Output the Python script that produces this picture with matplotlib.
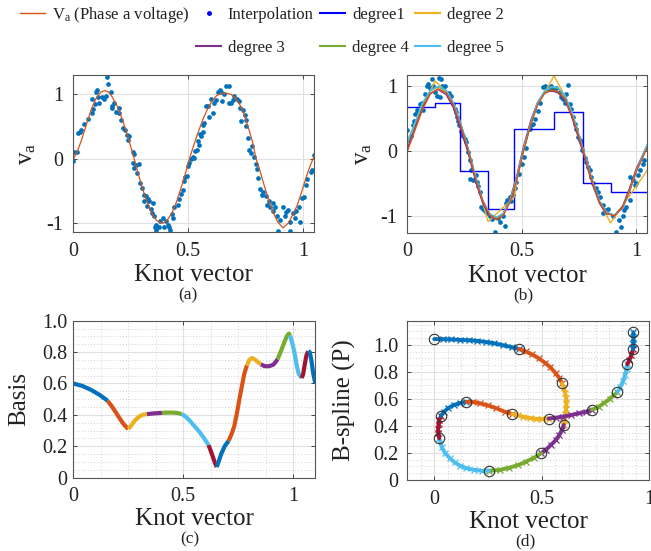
import matplotlib
matplotlib.use('Agg')
import matplotlib.pyplot as plt
from matplotlib.lines import Line2D
from matplotlib.ticker import MultipleLocator

plt.rcParams['font.family'] = ['Liberation Serif', 'DejaVu Serif']
plt.rcParams['mathtext.fontset'] = 'custom'
plt.rcParams['mathtext.rm'] = 'Liberation Serif'
plt.rcParams['mathtext.it'] = 'Liberation Serif:italic'

BLUE = '#0072BD'
ORANGE = '#D95319'
YELLOW = '#EDB120'
PURPLE = '#7E2F8E'
GREEN = '#77AC30'
LBLUE = '#4DBEEE'
DRED = '#A2142F'
seg_colors = [BLUE, ORANGE, YELLOW, PURPLE, GREEN, LBLUE, DRED]
TXT = '#222222'

# ---------------- (a) phase voltage + noisy samples ----------------
va_x = [0, .02, .04, .06, .08, .10, .12, .138, .155, .17, .19, .21, .23, .25, .266,
        .285, .305, .325, .345, .365, .39, .41, .43, .45, .47, .49, .506,
        .525, .545, .565, .585, .605, .625, .645, .666, .685, .705, .725, .745, .765, .78, .796,
        .81, .83, .85, .87, .89, .913, .935, .955, .975, .995, 1.015, 1.03, 1.047]
va_y = [-.02, .12, .32, .55, .77, .93, 1.03, 1.057, 1.03, .96, .83, .65, .44, .20, 0.0,
        -.25, -.49, -.70, -.86, -.96, -1.0, -.95, -.84, -.67, -.45, -.21, 0.0,
        .21, .42, .61, .77, .90, .98, 1.01, 1.015, 1.0, .95, .84, .68, .45, .27, 0.0,
        -.15, -.40, -.63, -.83, -.98, -1.07, -1.0, -.87, -.72, -.50, -.27, -.12, .03]

pts_a_x = [0, .004, .019, .023, .029, .033, .048, .081, .087, .084, .099, .106, .096, .113, .128,
           .135, .142, .15, .153, .167, .169, .171, .189, .198, .208, .218, .227, .233, .237, .244,
           .259, .266, .259, .273, .285, .266, .291, .31, .317, .31, .324, .331, .349, .321, .343,
           .353, .36, .358, .363, .375, .39, .397, .404, .411, .419, .422, .43, .433, .44, .455,
           .477, .484, .488, .494, .499, .503, .513, .52, .528, .539, .542, .549, .557, .564, .564,
           .571, .578, .586, .593, .608, .615, .622, .629, .64, .644, .648, .663, .677, .68, .688,
           .695, .712, .721, .731, .738, .746, .753, .753, .76, .765, .772, .789, .794, .8, .814,
           .823, .828, .84, .843, .855, .869, .869, .876, .887, .891, .913, .92, .927, .935, .942,
           .945, .956, .964, .971, .983, .988, .997, 1.003, 1.015, 1.017, 1.036, 1.041, 1.047,
           .065, .11, .18, .2, .28, .3, .337, .38, .46, .47, .53, .55, .6, .655, .7, .727, .78, .805, .85, .9]
pts_a_y = [-.04, .10, .11, .40, .42, .45, .54, .71, .77, .92, 1.04, 1.06, .85, .86, .96,
           .92, .97, 1.27, 1.16, 1.04, .82, .78, .73, .71, .60, .47, .45, .37, .29, .35,
           .11, .08, -.07, -.09, -.08, -.14, -.37, -.56, -.58, -.65, -.63, -.66, -.68, -.73, -.84,
           -.89, -1.02, -1.06, -1.10, -1.05, -.92, -1.05, -.97, -1.02, -1.05, -1.10, -.85, -.92, -.74, -.71,
           -.48, -.35, -.28, -.27, -.12, -.07, 0.0, .02, .01, .14, .27, .22, .35, .42, .53,
           .55, .82, .81, .65, .71, .86, .91, 1.03, 1.06, 1.04, .90, 1.13, 1.13, .86, .87,
           .91, .92, .89, .58, .75, .68, .60, .51, .32, .14, .09, .03, -.08, -.16, -.47,
           -.56, -.52, -.58, -.71, -.74, -.69, -.81, -.75, -.89, -1.12, -.74, -.89, -.83, -.80, -.98,
           -1.12, -.84, -.92, -.81, -.74, -.98, -.61, -.59, -.40, -.31, -.20, -.17, .06,
           .62, .95, .86, .78, -.22, -.45, -.78, -.96, -.62, -.55, .12, .38, .92, 1.0, .97, .78, .2, -.3, -.66, -.95]

# ---------------- (b) B-spline fits of several degrees ----------------
pts_b_x = [0, .004, .015, .023, .029, .033, .041, .048, .055, .062, .067, .077, .084, .090, .099,
           .106, .113, .121, .128, .14, .145, .150, .157, .164, .142, .18, .19, .2, .208, .212,
           .215, .222, .227, .233, .237, .244, .251, .256, .266, .273, .28, .276, .288, .302, .305,
           .31, .317, .324, .331, .339, .349, .36, .368, .382, .397, .404, .426, .419, .43, .436,
           .44, .448, .455, .462, .47, .477, .49, .5, .51, .52, .535, .542, .549, .56, .57,
           .58, .593, .6, .608, .615, .622, .629, .637, .651, .666, .673, .68, .688, .695, .702,
           .709, .717, .724, .731, .738, .746, .753, .76, .765, .775, .782, .789, .797, .804, .811,
           .826, .833, .84, .855, .862, .855, .876, .898, .91, .927, .935, .942, .949, .956, .971,
           .974, .985, .993, 1.0, 1.007, 1.015, 1.029, 1.036]
pts_b_y = [.33, .17, .24, .40, .47, .58, .64, .59, .73, .75, .64, .88, 1.01, 1.03, .98,
           1.11, 1.01, .91, .85, 1.12, 1.11, 1.01, .99, 1.01, .83, .90, .85, .72, .65, .60,
           .52, .47, .40, .32, .27, .24, .19, .14, -.01, -.14, -.29, -.42, -.44, -.37, -.47,
           -.54, -.62, -.85, -.88, -.91, -.95, -1.00, -1.04, -1.24, -1.03, -1.09, -1.15, -1.00, -.80, -.74,
           -.77, -.70, -.77, -.67, -.57, -.47, -.35, -.20, -.08, .05, .35, .40, .42, .50, .62,
           .75, .99, 1.01, .99, .97, .96, 1.01, .96, .98, .91, .84, .80, .75, .88, 1.02,
           .73, .65, .52, .42, .35, .22, .17, .14, .02, -.11, -.16, -.24, -.29, -.39, -.49,
           -.57, -.62, -.70, -.82, -.90, -.95, -.89, -1.00, -1.24, -1.05, -1.16, -1.00, -.90, -.85, -.75,
           -.39, -.44, -.52, -.49, -.37, -.29, -.19, -.14]

deg1_knots = [0, .121, .23, .353, .467, .641, .767, .888, 1.047]
deg1_vals = [.687, .743, -.30, -.89, .336, .611, -.483, -.631, -.631]

deg2_x = [0, .121, .17, .2, .233, .266, .3, .353, .467, .48, .506, .54, .57, .6, .641, .675,
          .69, .72, .75, .78, .81, .84, .888, 1.047]
deg2_y = [.17, 1.08, .92, .74, .42, .03, -.44, -1.08, -.70, -.42, -.02, .42, .73, .90, 1.16, .94,
          .82, .57, .24, -.12, -.48, -.78, -1.10, -.30]

xb = [0, .033, .066, .1, .135, .17, .2, .233, .266, .3, .33, .36, .39, .42, .45, .48, .506,
      .54, .57, .6, .63, .658, .69, .72, .75, .78, .81, .84, .87, .905, .94, .97, 1.0, 1.047]
deg3_y = [.04, .36, .67, .89, .95, .87, .68, .35, -.03, -.48, -.80, -.99, -1.04, -.95, -.72, -.35, .05,
          .48, .76, .90, .93, .90, .78, .52, .18, -.16, -.52, -.80, -.96, -.98, -.85, -.58, -.27, .08]
deg4_y = [.12, .42, .72, .93, .99, .93, .74, .42, .03, -.42, -.76, -.96, -1.02, -.96, -.75, -.40, 0.0,
          .43, .74, .92, .98, .97, .84, .58, .24, -.12, -.48, -.77, -.94, -.98, -.87, -.62, -.30, .06]
deg5_y = [.14, .44, .74, .94, 1.0, .94, .76, .44, .05, -.40, -.75, -.96, -1.01, -.95, -.74, -.38, .02,
          .45, .76, .93, .99, .98, .86, .60, .26, -.10, -.46, -.76, -.93, -.98, -.88, -.63, -.31, .10]
ref_b_y = [0.0, .32, .64, .88, .96, .90, .72, .40, .02, -.44, -.77, -.98, -1.05, -.98, -.77, -.42, -.02,
           .42, .72, .89, .94, .92, .80, .55, .22, -.12, -.48, -.78, -.95, -.99, -.87, -.62, -.32, .05]

# ---------------- (c) basis curve, one colour per knot span ----------------
c_x = [0, .04, .08, .12, .156, .175, .194, .212, .232, .25, .265, .28, .30, .318, .335, .37, .403,
       .44, .47, .494, .51, .527, .55, .573, .595, .615, .625, .635, .645, .652, .66, .672, .688, .706,
       .72, .732, .745, .755, .766, .777, .789, .80, .812, .826, .84, .853, .87, .89, .91, .929,
       .945, .96, .972, .98, .985, .995, 1.005, 1.015, 1.025, 1.038, 1.045, 1.052, 1.06, 1.068,
       1.075, 1.082, 1.09, 1.10]
c_y = [.600, .585, .56, .527, .49, .455, .415, .375, .335, .31, .335, .365, .39, .402, .405, .41, .413,
       .415, .413, .405, .39, .367, .33, .293, .25, .208, .17, .13, .09, .068, .10, .15, .20, .235,
       .28, .33, .42, .50, .58, .66, .715, .75, .762, .752, .735, .722, .71, .71, .72, .755,
       .81, .865, .905, .918, .905, .86, .80, .72, .66, .635, .66, .72, .78, .805,
       .80, .75, .67, .60]
c_breaks = [0, 4, 9, 14, 16, 19, 25, 29, 33, 40, 45, 49, 54, 59, 63, 67]

# ---------------- (d) 2-D B-spline with knot circles ----------------
d_x = [0, .04, .08, .12, .16, .2, .24, .28, .32, .36, .394,
       .425, .455, .485, .515, .54, .565, .582, .594,
       .603, .609, .613, .614, .613, .609, .605, .602,
       .593, .582, .565, .543, .52, .497,
       .465, .427, .39, .35, .304, .255,
       .22, .185, .15, .12, .095, .073, .05, .034, .023,
       .019, .018, .02, .024, .031,
       .045, .065, .09, .12, .15,
       .18, .211, .25, .289, .327, .363,
       .39, .412, .445, .474, .503, .532,
       .565, .597, .635, .674, .705, .733,
       .765, .79, .815, .835, .852,
       .866, .878, .888, .894, .898,
       .907, .916, .924,
       .926, .926, .926]
d_y = [1.044, 1.043, 1.041, 1.038, 1.035, 1.03, 1.022, 1.012, .998, .984, .97,
       .952, .93, .902, .868, .835, .79, .755, .716,
       .68, .645, .605, .565, .525, .485, .445, .407,
       .37, .333, .295, .259, .225, .198,
       .165, .136, .11, .091, .074, .067,
       .068, .075, .086, .105, .13, .16, .2, .247, .309,
       .345, .38, .415, .445, .474,
       .505, .532, .555, .57, .578,
       .578, .568, .552, .531, .506, .489,
       .478, .469, .459, .452, .452, .455,
       .461, .469, .48, .494, .505, .52,
       .543, .57, .6, .627, .652,
       .69, .735, .78, .82, .857,
       .89, .925, .968,
       1.01, 1.05, 1.094]
d_breaks = [0, 10, 18, 26, 32, 38, 47, 52, 57, 63, 69, 75, 80, 85, 88, 91]

fig = plt.figure(figsize=(6.51, 5.51), dpi=100)
ax_a = fig.add_axes([0.1121, 0.579, 0.370, 0.284])
ax_b = fig.add_axes([0.6257, 0.578, 0.368, 0.285])
ax_c = fig.add_axes([0.1126, 0.133, 0.3717, 0.285])
ax_d = fig.add_axes([0.6247, 0.129, 0.3727, 0.289])

TICK_FS = 14.5
LAB_FS = 18


def style(ax, ypad=6):
    for s in ax.spines.values():
        s.set_color('#555555')
        s.set_linewidth(0.8)
    ax.tick_params(direction='in', length=3, width=0.7, color='#444444', top=True, right=True,
                   labelsize=TICK_FS, labelcolor=TXT)
    ax.tick_params(axis='x', pad=7)
    ax.tick_params(axis='y', pad=ypad)
    ax.grid(True, which='major', color='#e0e0e0', lw=0.8)
    ax.set_axisbelow(True)


def minor_grid(ax, sx, sy):
    ax.xaxis.set_minor_locator(MultipleLocator(sx))
    ax.yaxis.set_minor_locator(MultipleLocator(sy))
    ax.grid(True, which='minor', color='#c4c4c4', lw=0.6, linestyle=(0, (1, 2.5)))
    ax.tick_params(which='minor', length=0)


# (a)
ax_a.plot(pts_a_x, pts_a_y, 'o', color=BLUE, ms=3.4, mew=0)
ax_a.plot(va_x, va_y, color=ORANGE, lw=0.9)
ax_a.set_xlim(0, 1.047)
ax_a.set_ylim(-1.134, 1.289)

# (b)
ax_b.plot(pts_b_x, pts_b_y, 'o', color=BLUE, ms=3.4, mew=0)
ax_b.step(deg1_knots, deg1_vals, where='post', color='#0000FF', lw=1.0)
ax_b.plot(deg2_x, deg2_y, color=YELLOW, lw=1.0)
ax_b.plot(xb, deg3_y, color=PURPLE, lw=1.0)
ax_b.plot(xb, deg4_y, color=GREEN, lw=1.0)
ax_b.plot(xb, deg5_y, color=LBLUE, lw=1.0)
ax_b.plot(xb, ref_b_y, color=ORANGE, lw=1.0)
ax_b.set_xlim(0, 1.047)
ax_b.set_ylim(-1.247, 1.165)

for ax, lx in ((ax_a, -0.19), (ax_b, -0.183)):
    ax.set_xticks([0, 0.5, 1], ['0', '0.5', '1'])
    ax.set_yticks([-1, 0, 1], ['-1', '0', '1'])
    style(ax, ypad=7)
    ax.set_xlabel('Knot vector', fontsize=LAB_FS, color=TXT, va='center')
    ax.xaxis.set_label_coords(0.5, -0.275)
    ax.set_ylabel('v$_{\\mathrm{a}}$', fontsize=LAB_FS, color=TXT, va='center')
    ax.yaxis.set_label_coords(lx, 0.5)

# (c)
for i in range(len(c_breaks) - 1):
    s, e = c_breaks[i], c_breaks[i + 1] + 1
    ax_c.plot(c_x[s:e], c_y[s:e], color=seg_colors[i % 7], lw=3.0, solid_capstyle='butt')
ax_c.set_xlim(0, 1.10)
ax_c.set_ylim(0, 1.0)
ax_c.set_xticks([0, 0.5, 1], ['0', '0.5', '1'])
ax_c.set_yticks([0, .2, .4, .6, .8, 1.0], ['0', '0.2', '0.4', '0.6', '0.8', '1.0'])
style(ax_c, ypad=4)
minor_grid(ax_c, 0.125, 0.05)
ax_c.set_xlabel('Knot vector', fontsize=LAB_FS, color=TXT, va='center')
ax_c.xaxis.set_label_coords(0.5, -0.265)
ax_c.set_ylabel('Basis', fontsize=LAB_FS, color=TXT, va='center')
ax_c.yaxis.set_label_coords(-0.225, 0.5)

# (d)
for i in range(len(d_breaks) - 1):
    s, e = d_breaks[i], d_breaks[i + 1] + 1
    ax_d.plot(d_x[s:e], d_y[s:e], color=seg_colors[i % 7], lw=2.8, marker='x', ms=5, mew=0.9,
              markevery=(1, 1), solid_capstyle='round')
ax_d.plot([d_x[k] for k in d_breaks], [d_y[k] for k in d_breaks], 'o', mfc='none', mec='#333333',
          ms=7.5, mew=0.8)
ax_d.set_xlim(-0.128, 1.0)
ax_d.set_ylim(0, 1.18)
ax_d.set_xticks([0, 0.5, 1], ['0', '0.5', '1'])
ax_d.set_yticks([0, .2, .4, .6, .8, 1.0], ['0', '0.2', '0.4', '0.6', '0.8', '1.0'])
style(ax_d, ypad=6)
minor_grid(ax_d, 0.0625, 0.05)
ax_d.set_xlabel('Knot vector', fontsize=LAB_FS, color=TXT, va='center')
ax_d.xaxis.set_label_coords(0.5, -0.262)
ax_d.set_ylabel('B-spline (P)', fontsize=LAB_FS, color=TXT, va='center')
ax_d.yaxis.set_label_coords(-0.255, 0.5)

# captions
fig.text(188 / 651, 1 - 295 / 551, '(a)', ha='center', va='center', fontsize=12.5, color=TXT)
fig.text(523 / 651, 1 - 295 / 551, '(b)', ha='center', va='center', fontsize=12.5, color=TXT)
fig.text(190 / 651, 1 - 539 / 551, '(c)', ha='center', va='center', fontsize=12.5, color=TXT)
fig.text(525 / 651, 1 - 541 / 551, '(d)', ha='center', va='center', fontsize=12.5, color=TXT)

# legend (4 columns, row 2 starts in column 2)
handles = [
    Line2D([], [], color=ORANGE, lw=1.0),
    Line2D([], [], linestyle='none'),
    Line2D([], [], linestyle='none', marker='o', color='#0000FF', ms=2.5),
    Line2D([], [], color=PURPLE, lw=1.5),
    Line2D([], [], color='#0000FF', lw=1.5),
    Line2D([], [], color=GREEN, lw=1.5),
    Line2D([], [], color=YELLOW, lw=1.5),
    Line2D([], [], color=LBLUE, lw=1.5),
]
labels = ['V$_{\\mathrm{a}}$ (Phase a voltage)', '', 'Interpolation', 'degree 3',
          'degree1', 'degree 4', 'degree 2', 'degree 5']
leg = fig.legend(handles, labels, ncol=4, loc='upper left', bbox_to_anchor=(20 / 651, 1 - 5 / 551),
                 frameon=False, fontsize=12, handlelength=1.5, handletextpad=0.4,
                 columnspacing=0.4, labelspacing=1.0, borderpad=0, borderaxespad=0)
for t in leg.get_texts():
    t.set_color(TXT)

fig.savefig('out.png', dpi=100)
